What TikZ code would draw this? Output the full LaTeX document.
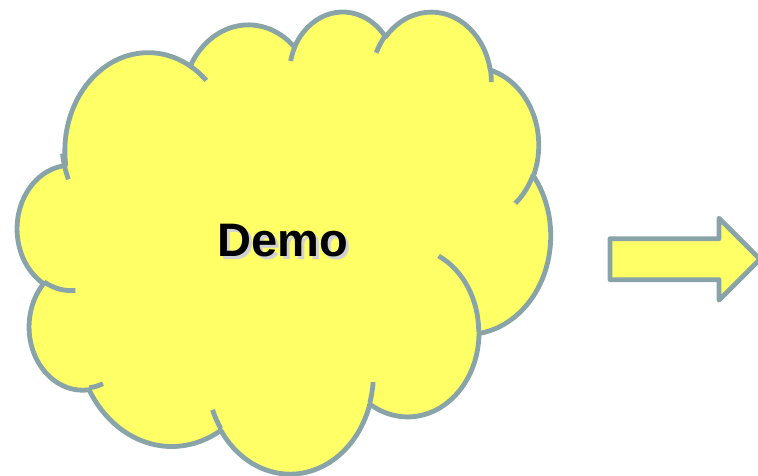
\documentclass[tikz,border=0pt]{standalone}
\usepackage{fontspec}
\setmainfont{Liberation Sans}
\usepackage{tikz}

\definecolor{puffyellow}{RGB}{255,255,102}
\definecolor{puffgrey}{RGB}{136,164,168}

% one lobe of the cloud: x radius, y radius, start angle, sweep (visual angles, y down)
\newcommand\lobe[4]{\pgfextra{%
    \pgfmathparse{atan2(#1*sin(#3),#2*cos(#3))}\xdef\lobeA{\pgfmathresult}%
    \pgfmathparse{atan2(#1*sin(#3+#4),#2*cos(#3+#4))}\xdef\lobeB{\pgfmathresult}%
    \pgfmathparse{\lobeB-\lobeA}\xdef\lobeD{\pgfmathresult}%
    \pgfmathparse{\lobeD+360*round((#4-\lobeD)/360)}\xdef\lobeD{\pgfmathresult}%
    \pgfmathparse{#1*1.2338}\xdef\lobeX{\pgfmathresult pt}%
    \pgfmathparse{#2*1.0694}\xdef\lobeY{\pgfmathresult pt}}
  arc[x radius=\lobeX, y radius=\lobeY, start angle=-\lobeA, delta angle=-\lobeD]}

\begin{document}
\begin{tikzpicture}[x=1pt, y=1pt, cloud/.style={draw=puffgrey, fill=puffyellow, line width=4.8pt, line join=round}, block/.style={draw=puffgrey, fill=puffyellow, line width=4.8pt, line join=round}, label/.style={font=\fontsize{47}{56}\selectfont\bfseries, inner sep=0pt}]
    \clip (0,0) rectangle (758,476);
    \begin{scope}[shift={(17.5,465.5)}, x=1.2338pt, y=-1.0694pt]
        \draw[cloud] (39.00,143.70) \lobe{67.53}{91.90}{-190.4875}{123.7805} \lobe{53.33}{72.67}{-144.1024}{89.9452}
            \lobe{43.65}{59.45}{-145.8079}{99.7230} \lobe{48.57}{65.95}{-130.9861}{117.2417}
            \lobe{53.33}{72.73}{-78.7089}{109.0269} \lobe{67.75}{92.20}{-46.2673}{130.2690}
            \lobe{57.85}{78.67}{0.6250}{114.0333} \lobe{67.52}{92.15}{22.4516}{115.1726}
            \lobe{77.20}{105.43}{66.2426}{75.7110} \lobe{43.60}{59.18}{-274.9421}{146.7356}
            \lobe{43.45}{59.45}{-246.8285}{152.5189} -- cycle;
        \draw[cloud, fill=none] (46.93,261.77) \lobe{43.45}{59.45}{86.7420}{26.4295}
            (69.28,348.99) \lobe{43.60}{59.18}{73.6105}{11.4475}
            (164.78,390.90) \lobe{67.52}{92.15}{137.6242}{14.0811}
            (288.27,347.51) \lobe{67.52}{92.15}{6.4533}{15.9984}
            (341.29,229.54) \lobe{57.85}{78.67}{-70.2924}{70.9174}
            (417.98,153.54) \lobe{53.33}{72.73}{30.3180}{27.7515}
            (383.24,54.26) \lobe{48.57}{65.95}{-13.7443}{14.8589}
            (290.78,39.52) \lobe{48.57}{65.95}{-149.1815}{18.1954}
            (221.41,47.20) \lobe{43.65}{59.45}{-163.4943}{17.6864}
            (140.00,51.92) \lobe{67.53}{91.90}{-66.7070}{12.3194}
            (41.27,157.89) \lobe{67.53}{91.90}{150}{20};
    \end{scope}
    \node[label, text=black!18] (demoshadow) at (285.5,232.5) {Demo};
    \node[label] (demo) at (283,235) {Demo};
    \draw[block] (610,237.3) -- (719,237.3) -- (719,257.8) -- (760,216.8) -- (719,175.8) -- (719,196.3) -- (610,196.3) -- cycle;
\end{tikzpicture}
\end{document}
